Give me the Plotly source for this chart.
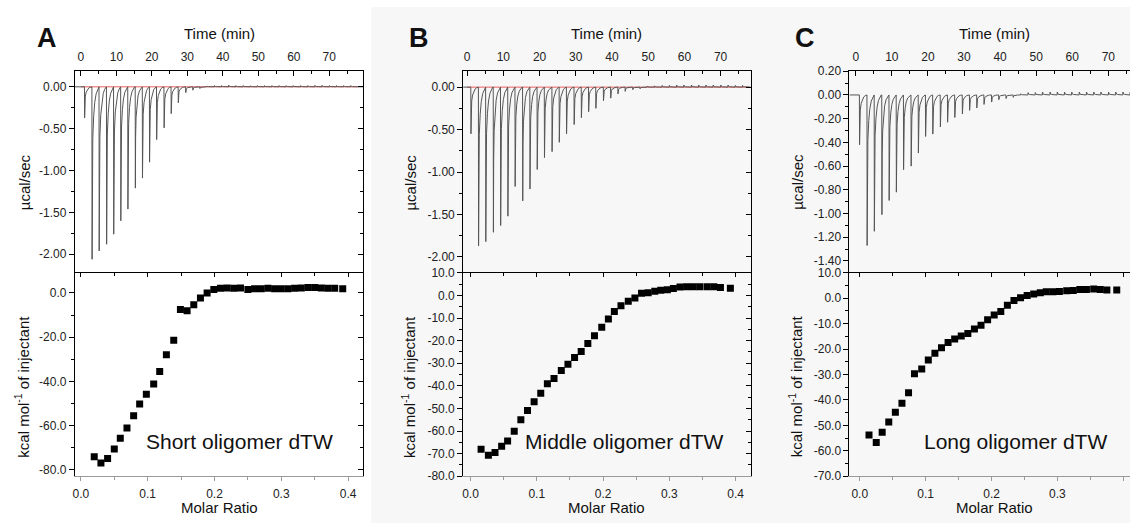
import plotly.graph_objects as go

W, H = 1130, 530

# ---------------- data ----------------
# injection times (min), shared by the three runs
INJ_TIME = [1.0, 3.1, 5.1, 7.2, 9.2, 11.2, 13.2, 15.3, 17.3, 19.3, 21.3, 23.4, 25.4,
            27.4, 29.5, 31.5, 33.5, 35.5, 37.6, 39.6, 41.6, 43.6, 45.7, 47.7, 49.7,
            51.7, 53.8, 55.8, 57.8, 59.8, 61.9, 63.9, 65.9, 67.9, 70.0, 72.0, 74.0, 76.0]

# thermogram peak heights (µcal/sec) per injection
PEAK_SHORT = [-0.37, -2.06, -1.96, -1.88, -1.76, -1.60, -1.46, -1.21, -1.09, -0.90, -0.63,
              -0.49, -0.32, -0.19, -0.07, -0.04, -0.02, 0.010, 0.015, 0.015, 0.020, 0.015,
              0.015, 0.012, 0.015, 0.015, 0.015, 0.015, 0.015, 0.015, 0.015, 0.015, 0.018,
              0.018, 0.015, 0.015, 0.015, 0.015]
PEAK_MIDDLE = [-0.55, -1.87, -1.82, -1.71, -1.63, -1.52, -1.17, -1.34, -1.20, -0.97, -0.83,
               -0.76, -0.65, -0.55, -0.44, -0.36, -0.29, -0.25, -0.16, -0.13, -0.08, -0.05,
               -0.03, -0.02, 0.010, 0.015, 0.020, 0.020, 0.025, 0.025, 0.025, 0.025, 0.025,
               0.025, 0.025, 0.025, 0.020, 0.020]
PEAK_LONG = [-0.42, -1.27, -1.15, -1.01, -0.89, -0.82, -0.63, -0.60, -0.49, -0.35, -0.33,
             -0.27, -0.23, -0.19, -0.16, -0.13, -0.11, -0.08, -0.06, -0.04, -0.03, -0.02,
             0.010, 0.020, 0.020, 0.025, 0.025, 0.025, 0.025, 0.025, 0.025, 0.025, 0.025,
             0.025, 0.025, 0.025, 0.025, 0.025]

# integrated heats: molar ratio vs kcal/mol of injectant
MR_SHORT = [0.020, 0.030, 0.040, 0.050, 0.059, 0.069, 0.079, 0.088, 0.098, 0.109, 0.118,
            0.128, 0.139, 0.149, 0.159, 0.169, 0.179, 0.189, 0.199, 0.209, 0.219, 0.229,
            0.239, 0.250, 0.260, 0.270, 0.280, 0.290, 0.300, 0.310, 0.320, 0.330, 0.340,
            0.350, 0.360, 0.370, 0.380, 0.392]
DH_SHORT = [-74.1, -76.9, -74.9, -70.6, -65.8, -61.1, -55.6, -50.2, -45.8, -41.2, -35.5,
            -28.0, -21.4, -7.5, -8.1, -5.3, -2.3, 0.0, 1.6, 2.1, 2.2, 2.1, 2.2, 1.6, 1.9,
            1.9, 2.1, 1.9, 1.9, 1.9, 2.1, 2.2, 2.5, 2.5, 2.2, 2.1, 2.1, 1.9]

MR_MIDDLE = [0.016, 0.027, 0.037, 0.047, 0.056, 0.066, 0.076, 0.086, 0.096, 0.106, 0.116,
             0.126, 0.137, 0.147, 0.157, 0.167, 0.177, 0.187, 0.198, 0.208, 0.217, 0.227,
             0.238, 0.248, 0.258, 0.268, 0.278, 0.287, 0.297, 0.306, 0.316, 0.326, 0.336,
             0.346, 0.357, 0.367, 0.377, 0.392]
DH_MIDDLE = [-68.1, -70.7, -69.5, -66.7, -64.4, -60.1, -55.0, -50.9, -47.0, -43.3, -39.1,
             -36.8, -33.2, -30.5, -27.5, -24.8, -21.3, -17.9, -14.1, -10.4, -7.1, -4.6,
             -2.6, -1.2, 1.0, 1.2, 1.8, 2.3, 2.5, 3.1, 3.7, 3.8, 3.8, 3.8, 3.8, 3.8, 3.5, 3.2]

MR_LONG = [0.014, 0.025, 0.034, 0.044, 0.054, 0.064, 0.074, 0.083, 0.094, 0.104, 0.114,
           0.124, 0.134, 0.144, 0.154, 0.164, 0.174, 0.184, 0.194, 0.204, 0.214, 0.224,
           0.234, 0.244, 0.254, 0.264, 0.274, 0.283, 0.293, 0.303, 0.314, 0.324, 0.334,
           0.344, 0.355, 0.365, 0.375, 0.390]
DH_LONG = [-53.8, -56.7, -52.7, -48.7, -44.8, -41.3, -37.2, -29.7, -27.8, -24.3, -21.6,
           -19.5, -17.4, -16.0, -14.9, -13.9, -12.1, -10.6, -8.5, -6.6, -5.2, -2.8, -0.9,
           0.2, 1.1, 1.7, 2.2, 2.5, 2.5, 2.6, 2.9, 3.0, 3.4, 3.4, 3.6, 3.4, 3.2, 3.2]

# tick values
TIME_TICKS = [0, 10, 20, 30, 40, 50, 60, 70]
MOLAR_TICKS = [0.0, 0.1, 0.2, 0.3, 0.4]
RATE_TICKS_AB = [0.0, -0.5, -1.0, -1.5, -2.0]
RATE_TICKS_C = [0.2, 0.0, -0.2, -0.4, -0.6, -0.8, -1.0, -1.2, -1.4]
HEAT_TICKS_A = [0, -20, -40, -60, -80]
HEAT_TICKS_B = [10, 0, -10, -20, -30, -40, -50, -60, -70, -80]
HEAT_TICKS_C = [10, 0, -10, -20, -30, -40, -50, -60, -70]

PANEL_LETTERS = ["A", "B", "C"]
SAMPLE_NAMES = ["Short oligomer dTW", "Middle oligomer dTW", "Long oligomer dTW"]

# ---------------- styling ----------------
FONT = "Liberation Sans, Arial, sans-serif"
TICK_FONT = dict(family=FONT, size=12, color="#222222")
# shape of one injection peak: (minutes after injection, fraction of peak height)
PEAK_PROFILE = [(0.0, 0.0), (0.05, 1.0), (0.12, 0.5), (0.25, 0.3), (0.5, 0.17),
                (0.8, 0.09), (1.2, 0.04), (1.6, 0.015), (1.95, 0.0)]


def fx(px):
    return px / W


def fy(py):
    return 1 - py / H


panels = [
    dict(xl=73, xr=362, t_rng=[-1.7, 79.6], mr_rng=[-0.009, 0.4229],
         top_rng=[-2.221, 0.186], bot_rng=[-82.95, 9.12],
         top_ticks=RATE_TICKS_AB, top_minor=0.25, bot_ticks=HEAT_TICKS_A, bot_minor=10,
         peaks=PEAK_SHORT, mr=MR_SHORT, dh=DH_SHORT, red=True, right=True,
         letter_x=45, ylab_x=22, title_cx=217.5, text_x=142),
    dict(xl=462, xr=750, t_rng=[-1.1, 78.3], mr_rng=[-0.011, 0.4226],
         top_rng=[-2.187, 0.187], bot_rng=[-80, 10],
         top_ticks=RATE_TICKS_AB, top_minor=0.25, bot_ticks=HEAT_TICKS_B, bot_minor=5,
         peaks=PEAK_MIDDLE, mr=MR_MIDDLE, dh=DH_MIDDLE, red=True, right=True,
         letter_x=418, ylab_x=409, title_cx=606, text_x=522),
    dict(xl=849, xr=1130, t_rng=[-1.74, 76.0], mr_rng=[-0.0156, 0.4101],
         top_rng=[-1.5, 0.2], bot_rng=[-70, 10],
         top_ticks=RATE_TICKS_C, top_minor=0.1, bot_ticks=HEAT_TICKS_C, bot_minor=5,
         peaks=PEAK_LONG, mr=MR_LONG, dh=DH_LONG, red=False, right=False,
         letter_x=804, ylab_x=797, title_cx=994, text_x=922),
]

Y_TOP, Y_MID, Y_BOT = 66, 273, 482

fig = go.Figure()
layout = {}
annotations = []


def fmt(vals, nd):
    return [f"{v:.{nd}f}" for v in vals]


def note(text, px, py, size=15, angle=0, xanchor="center", bold=False):
    return dict(text=f"<b>{text}</b>" if bold else text, x=fx(px), y=fy(py),
                xref="paper", yref="paper", xanchor=xanchor, yanchor="middle",
                textangle=angle, showarrow=False,
                font=dict(family=FONT, size=size, color="#111111"))


for k, p in enumerate(panels):
    it, ib = 2 * k + 1, 2 * k + 2
    xdom = [fx(p["xl"]), fx(p["xr"])]
    top_dom = [fy(Y_MID), fy(Y_TOP)]
    bot_dom = [fy(Y_BOT), fy(Y_MID)]

    # thermogram
    tx, ty = [p["t_rng"][0]], [0.0]
    for t, pk in zip(INJ_TIME, p["peaks"]):
        for dt, f in PEAK_PROFILE:
            tx.append(t + dt)
            ty.append(pk * f)
    tx.append(p["t_rng"][1])
    ty.append(0.0)
    if p["red"]:
        fig.add_trace(go.Scatter(x=[0, INJ_TIME[-1] + 2], y=[0, 0], mode="lines",
                                 line=dict(color="rgba(230,40,40,0.75)", width=1),
                                 xaxis=f"x{it}", yaxis=f"y{it}", showlegend=False,
                                 hoverinfo="skip"))
    fig.add_trace(go.Scatter(x=tx, y=ty, mode="lines",
                             line=dict(color="#555555", width=1),
                             xaxis=f"x{it}", yaxis=f"y{it}", showlegend=False))

    # integrated heats
    fig.add_trace(go.Scatter(x=p["mr"], y=p["dh"], mode="markers",
                             marker=dict(symbol="square", size=7, color="black"),
                             xaxis=f"x{ib}", yaxis=f"y{ib}", showlegend=False))

    common = dict(showgrid=False, zeroline=False, showline=True, linecolor="black",
                  linewidth=1, tickcolor="black", tickfont=TICK_FONT, tickmode="array")

    # top subplot: time axis on top, rate axis on left
    layout[f"xaxis{it}"] = dict(common, domain=xdom, range=p["t_rng"], anchor=f"y{it}",
                                side="top", tickvals=TIME_TICKS,
                                ticktext=[str(v) for v in TIME_TICKS],
                                ticks="inside", ticklen=5, ticklabelstandoff=4,
                                minor=dict(dtick=5, tick0=0, ticks="inside", ticklen=3,
                                           tickcolor="black"))
    layout[f"yaxis{it}"] = dict(common, domain=top_dom, range=p["top_rng"],
                                anchor=f"x{it}", side="left",
                                tickvals=p["top_ticks"], ticktext=fmt(p["top_ticks"], 2),
                                ticks="outside", ticklen=5,
                                minor=dict(dtick=p["top_minor"], tick0=0, ticks="outside",
                                           ticklen=3, tickcolor="black"))

    # bottom subplot: molar ratio at bottom, heat on left
    layout[f"xaxis{ib}"] = dict(common, domain=xdom, range=p["mr_rng"], anchor=f"y{ib}",
                                side="bottom", tickvals=MOLAR_TICKS,
                                ticktext=fmt(MOLAR_TICKS, 1), ticks="outside", ticklen=4,
                                linecolor="#9a9a9a", tickcolor="#9a9a9a",
                                ticklabelstandoff=2,
                                minor=dict(dtick=0.05, tick0=0, ticks="outside", ticklen=3,
                                           tickcolor="#9a9a9a"))
    layout[f"yaxis{ib}"] = dict(common, domain=bot_dom, range=p["bot_rng"],
                                anchor=f"x{ib}", side="left",
                                tickvals=p["bot_ticks"], ticktext=fmt(p["bot_ticks"], 1),
                                ticks="outside", ticklen=5,
                                minor=dict(dtick=p["bot_minor"], tick0=0, ticks="outside",
                                           ticklen=3, tickcolor="black"))

    # frame line between the two subplots, ticks pointing into the heat plot
    xo = 7 + k
    layout[f"xaxis{xo}"] = dict(common, overlaying=f"x{ib}", anchor=f"y{ib}", side="top",
                                range=p["mr_rng"], tickvals=MOLAR_TICKS,
                                showticklabels=False, ticks="inside", ticklen=4,
                                minor=dict(dtick=0.05, tick0=0, ticks="inside", ticklen=3,
                                           tickcolor="black"))
    fig.add_trace(go.Scatter(x=[], y=[], xaxis=f"x{xo}", yaxis=f"y{ib}",
                             showlegend=False, hoverinfo="skip"))

    # right frame with inward ticks
    if p["right"]:
        for base, rng, ticks, minor in ((it, p["top_rng"], p["top_ticks"], p["top_minor"]),
                                        (ib, p["bot_rng"], p["bot_ticks"], p["bot_minor"])):
            yo = 6 + base
            layout[f"yaxis{yo}"] = dict(common, overlaying=f"y{base}", anchor=f"x{base}",
                                        side="right", range=rng, tickvals=ticks,
                                        showticklabels=False, ticks="inside", ticklen=5,
                                        minor=dict(dtick=minor, tick0=0, ticks="inside",
                                                   ticklen=3, tickcolor="black"))
            fig.add_trace(go.Scatter(x=[], y=[], xaxis=f"x{base}", yaxis=f"y{yo}",
                                     showlegend=False, hoverinfo="skip"))

    cx = p["title_cx"]
    annotations += [
        note(PANEL_LETTERS[k], p["letter_x"], 32, size=27, bold=True),
        note("Time (min)", cx, 27),
        note("µcal/sec", p["ylab_x"], 180, angle=-90),
        note("kcal mol<sup>-1</sup> of injectant", p["ylab_x"] - 2, 390, angle=-90),
        note("Molar Ratio", cx, 514),
        note(SAMPLE_NAMES[k], p["text_x"], 446, size=21, xanchor="left"),
    ]

fig.update_layout(
    width=W, height=H, margin=dict(l=0, r=0, t=0, b=0),
    paper_bgcolor="white", plot_bgcolor="rgba(0,0,0,0)",
    showlegend=False, annotations=annotations,
    shapes=[dict(type="rect", xref="paper", yref="paper", x0=fx(370), x1=1, y0=0, y1=1,
                 fillcolor="#f7f7f7", line=dict(width=0), layer="below")],
    **layout,
)

# keep the page flush with the figure
fig.write_html("out.html", post_script="document.body.style.margin='0';")
